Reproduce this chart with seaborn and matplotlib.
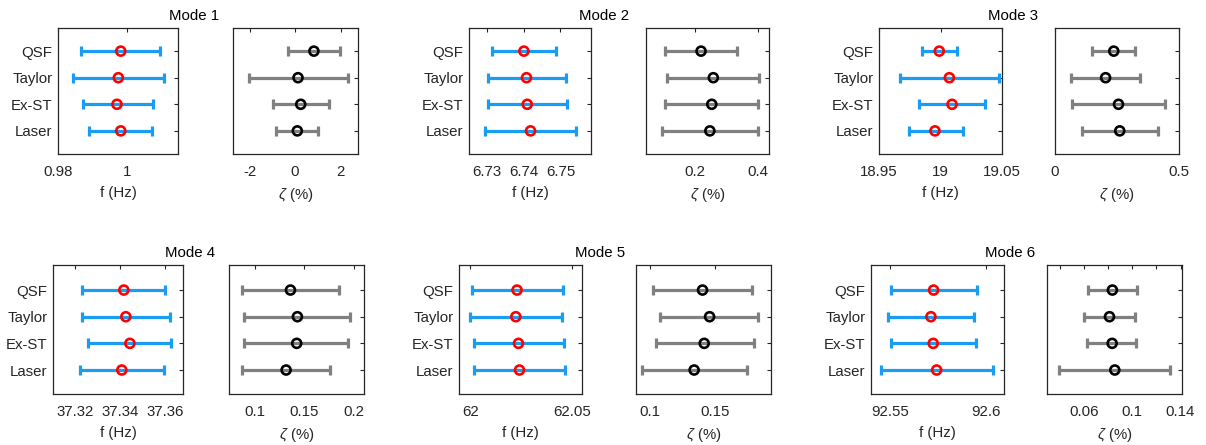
import numpy as np
import pandas as pd
import matplotlib
matplotlib.use("Agg")
import matplotlib.pyplot as plt
import seaborn as sns

# identified modal parameters
methods = ['QSF', 'Taylor', 'Ex-ST', 'Laser']
modes = ['Mode 1', 'Mode 2', 'Mode 3', 'Mode 4', 'Mode 5', 'Mode 6']

# natural frequency (Hz): lower bound, estimate, upper bound, one row per mode
freq_low = [[0.9866, 0.9844, 0.9872, 0.9890],
            [6.7314, 6.7304, 6.7304, 6.7296],
            [18.9846, 18.9670, 18.9827, 18.9743],
            [37.3231, 37.3230, 37.3257, 37.3219],
            [62.0010, 62.0000, 62.0016, 62.0020],
            [92.5505, 92.5491, 92.5505, 92.5453]]
freq_mid = [[0.9982, 0.9975, 0.9971, 0.9982],
            [6.7401, 6.7408, 6.7410, 6.7419],
            [18.9990, 19.0072, 19.0094, 18.9955],
            [37.3416, 37.3425, 37.3443, 37.3407],
            [62.0229, 62.0223, 62.0236, 62.0241],
            [92.5728, 92.5714, 92.5726, 92.5744]]
freq_high = [[1.0096, 1.0106, 1.0076, 1.0073],
             [6.7489, 6.7515, 6.7517, 6.7542],
             [19.0132, 19.0475, 19.0358, 19.0181],
             [37.3600, 37.3622, 37.3628, 37.3595],
             [62.0456, 62.0450, 62.0459, 62.0465],
             [92.5953, 92.5939, 92.5949, 92.6037]]

# damping ratio (%)
damp_low = [[-0.31, -2.03, -0.96, -0.84],
            [0.105, 0.112, 0.105, 0.095],
            [0.150, 0.066, 0.067, 0.108],
            [0.0876, 0.0889, 0.0892, 0.0875],
            [0.1028, 0.1079, 0.1046, 0.0941],
            [0.0634, 0.0601, 0.0623, 0.0395]]
damp_mid = [[0.83, 0.13, 0.25, 0.10],
            [0.219, 0.258, 0.253, 0.247],
            [0.237, 0.204, 0.256, 0.261],
            [0.1361, 0.1431, 0.1424, 0.1317],
            [0.1403, 0.1457, 0.1416, 0.1339],
            [0.0835, 0.0811, 0.0833, 0.0855]]
damp_high = [[1.96, 2.35, 1.48, 1.00],
             [0.333, 0.403, 0.400, 0.400],
             [0.323, 0.344, 0.445, 0.417],
             [0.1852, 0.1967, 0.1943, 0.1761],
             [0.1783, 0.1829, 0.1793, 0.1742],
             [0.1042, 0.1023, 0.1031, 0.1309]]

# axis settings (limits, ticks, tick labels) per mode
freq_lims = [(0.98, 1.0148), (6.7252, 6.7583), (18.95, 19.05),
             (37.31, 37.368), (61.9944, 62.0548), (92.5401, 92.6096)]
freq_ticks = [[0.98, 1.0], [6.73, 6.74, 6.75], [18.95, 19.0, 19.05],
              [37.32, 37.34, 37.36], [62.0, 62.05], [92.55, 92.6]]
freq_labels = [['0.98', '1'], ['6.73', '6.74', '6.75'], ['18.95', '19', '19.05'],
               ['37.32', '37.34', '37.36'], ['62', '62.05'], ['92.55', '92.6']]
damp_lims = [(-2.73, 2.77), (0.044, 0.435), (0.0, 0.5),
             (0.074, 0.2104), (0.0895, 0.1926), (0.0293, 0.1412)]
damp_ticks = [[-2, 0, 2], [0.2, 0.4], [0, 0.5], [0.1, 0.15, 0.2], [0.1, 0.15],
              [0.04, 0.06, 0.08, 0.10, 0.12, 0.14]]
damp_labels = [['-2', '0', '2'], ['0.2', '0.4'], ['0', '0.5'], ['0.1', '0.15', '0.2'],
               ['0.1', '0.15'], ['', '0.06', '', '0.1', '', '0.14']]

# layout in pixels (left, right) for each pair, rows by (top, bottom)
W, H = 1206, 445
pair_x = [((58, 178), (233, 358)), ((469, 591), (646, 769)), ((879, 1002), (1055, 1179)),
          ((53, 183), (229, 364)), ((459, 582), (636, 771)), ((871, 1004), (1047, 1182))]
row_y = [(28, 154), (265, 394)]
row_ylim = [(0.13, 4.87), (0.1, 4.94)]
title_xy = [(194, 16), (604, 16), (1013, 16), (190, 253), (600, 253), (1010, 253)]

BLUE = '#1A9CF2'
GRAY = '#808080'
INK = '#262626'

sns.set_style("white")
plt.rcParams['font.family'] = ['Liberation Sans', 'DejaVu Sans']
plt.rcParams['mathtext.fontset'] = 'custom'
plt.rcParams['mathtext.it'] = 'Liberation Sans:italic'
plt.rcParams['mathtext.rm'] = 'Liberation Sans'

ypos = [4, 3, 2, 1]
FS = 10.8

fig = plt.figure(figsize=(W / 100, H / 100), dpi=100)


def make_ax(xr, yr):
    return fig.add_axes([xr[0] / W, 1 - yr[1] / H, (xr[1] - xr[0]) / W, (yr[1] - yr[0]) / H])


def style_ax(ax, lims, ticks, labels, ylim, show_y):
    ax.set_xlim(*lims)
    ax.set_xticks(ticks)
    ax.set_xticklabels(labels)
    ax.set_ylim(*ylim)
    ax.set_yticks(ypos)
    ax.set_yticklabels(methods if show_y else [])
    ax.tick_params(direction='in', top=True, right=True, length=3, width=0.8,
                   colors=INK, labelcolor=INK, labelsize=FS)
    ax.tick_params(axis='x', pad=8)
    ax.tick_params(axis='y', pad=4)
    for sp in ax.spines.values():
        sp.set_color(INK)
        sp.set_linewidth(0.9)
        sp.set_visible(True)
    ax.grid(False)


for m in range(6):
    r = 0 if m < 3 else 1
    df = pd.DataFrame({'method': methods, 'pos': ypos,
                       'f_lo': freq_low[m], 'f': freq_mid[m], 'f_hi': freq_high[m],
                       'z_lo': damp_low[m], 'z': damp_mid[m], 'z_hi': damp_high[m]})

    # frequency panel
    ax1 = make_ax(pair_x[m][0], row_y[r])
    ax1.errorbar(df['f'], df['pos'], xerr=[df['f'] - df['f_lo'], df['f_hi'] - df['f']],
                 fmt='none', ecolor=BLUE, elinewidth=2.3, capsize=3.3, capthick=2.3, zorder=2)
    sns.scatterplot(data=df, x='f', y='pos', ax=ax1, marker='o', s=42, fc='none',
                    ec='red', linewidth=1.9, legend=False, zorder=3)
    style_ax(ax1, freq_lims[m], freq_ticks[m], freq_labels[m], row_ylim[r], True)
    ax1.set_xlabel('f (Hz)', fontsize=FS, color=INK, labelpad=5)
    ax1.set_ylabel('')

    # damping panel
    ax2 = make_ax(pair_x[m][1], row_y[r])
    ax2.errorbar(df['z'], df['pos'], xerr=[df['z'] - df['z_lo'], df['z_hi'] - df['z']],
                 fmt='none', ecolor=GRAY, elinewidth=2.3, capsize=3.3, capthick=2.3, zorder=2)
    sns.scatterplot(data=df, x='z', y='pos', ax=ax2, marker='o', s=42, fc='none',
                    ec='black', linewidth=1.9, legend=False, zorder=3)
    style_ax(ax2, damp_lims[m], damp_ticks[m], damp_labels[m], row_ylim[r], False)
    ax2.set_xlabel(r'$\zeta$ (%)', fontsize=FS, color=INK, labelpad=5)
    ax2.set_ylabel('')

    fig.text(title_xy[m][0] / W, 1 - title_xy[m][1] / H, modes[m], ha='center', va='center',
             fontsize=FS, color='black')

fig.savefig('out.png', dpi=100)
